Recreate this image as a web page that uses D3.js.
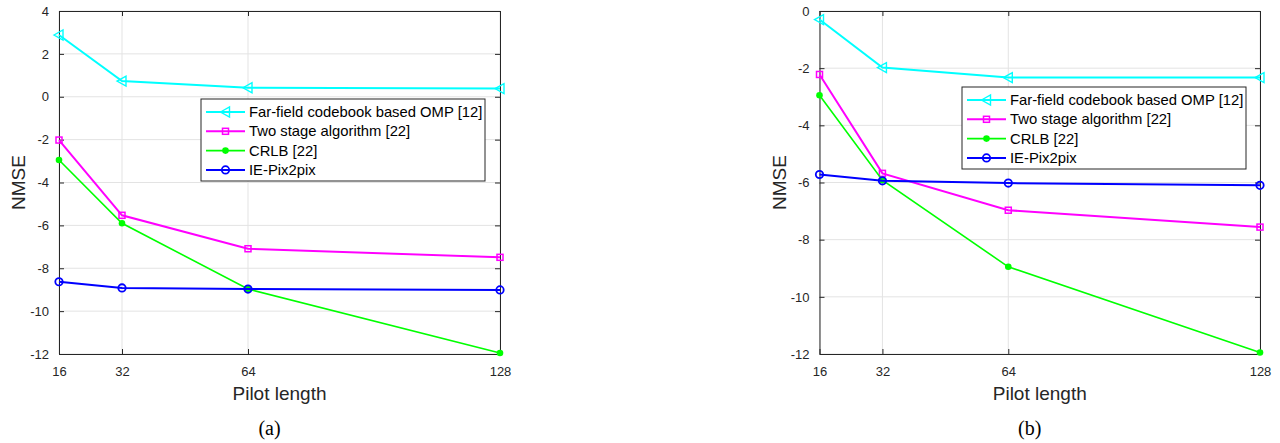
<!DOCTYPE html>
<html>
<head>
<meta charset="utf-8">
<script src="https://cdn.jsdelivr.net/npm/d3@7"></script>
<style>
  body { margin: 0; background: #fff; }
  svg { display: block; }
</style>
</head>
<body>
<div id="chart"></div>
<script>
// pilot lengths shared by both panels
const pilotLengths = [16, 32, 64, 128];
const seriesNames = ['Far-field codebook based OMP [12]', 'Two stage algorithm [22]', 'CRLB [22]', 'IE-Pix2pix'];

// panel (a)
const farFieldA = [2.88, 0.73, 0.42, 0.38];
const twoStageA = [-2.02, -5.53, -7.09, -7.49];
const crlbA = [-2.95, -5.9, -8.97, -11.95];
const pix2pixA = [-8.63, -8.92, -8.97, -9.01];
const yTicksA = [4, 2, 0, -2, -4, -6, -8, -10, -12];

// panel (b)
const farFieldB = [-0.3, -1.98, -2.33, -2.33];
const twoStageB = [-2.22, -5.68, -6.97, -7.56];
const crlbB = [-2.95, -5.92, -8.95, -11.95];
const pix2pixB = [-5.72, -5.94, -6.02, -6.1];
const yTicksB = [0, -2, -4, -6, -8, -10, -12];

const styles = [
    { color: '#00ffff', marker: 'triangle', width: 2 },
    { color: '#ff00ff', marker: 'square', width: 2 },
    { color: '#00ff00', marker: 'dot', width: 1.6 },
    { color: '#0000ff', marker: 'circle', width: 2 }
];

const W = 1280, H = 443;
const axisColor = '#262626';
const font = 'Liberation Sans, Arial, Helvetica, sans-serif';

const svg = d3.select('#chart').append('svg')
    .attr('width', W)
    .attr('height', H);

function drawMarker(g, type, color, x, y) {
    if (type === 'triangle') {
        g.append('path')
            .attr('d', `M${x - 5},${y} L${x + 4},${y - 5} L${x + 4},${y + 5} Z`)
            .attr('fill', 'none').attr('stroke', color).attr('stroke-width', 1.4);
    } else if (type === 'square') {
        g.append('rect')
            .attr('x', x - 3).attr('y', y - 3).attr('width', 6).attr('height', 6)
            .attr('fill', 'none').attr('stroke', color).attr('stroke-width', 1.5);
    } else if (type === 'dot') {
        g.append('circle').attr('cx', x).attr('cy', y).attr('r', 3.3).attr('fill', color);
    } else {
        g.append('circle').attr('cx', x).attr('cy', y).attr('r', 3.7)
            .attr('fill', 'none').attr('stroke', color).attr('stroke-width', 1.8);
    }
}

function drawPanel(cfg) {
    const x = d3.scaleLinear().domain([16, 128]).range([cfg.left, cfg.right]);
    const y = d3.scaleLinear().domain([cfg.yTicks[cfg.yTicks.length - 1], cfg.yTicks[0]]).range([cfg.bottom, cfg.top]);

    const g = svg.append('g');

    // grid
    g.selectAll('line.gy').data(cfg.yTicks).enter().append('line')
        .attr('x1', cfg.left).attr('x2', cfg.right)
        .attr('y1', d => y(d)).attr('y2', d => y(d))
        .attr('stroke', '#e3e3e3').attr('stroke-width', 1);
    g.selectAll('line.gx').data(pilotLengths).enter().append('line')
        .attr('y1', cfg.top).attr('y2', cfg.bottom)
        .attr('x1', d => x(d)).attr('x2', d => x(d))
        .attr('stroke', '#e3e3e3').attr('stroke-width', 1);

    // axes (box with inward ticks), plain hyphen for negatives
    const fmt = d => String(d);
    const axL = g.append('g').attr('transform', `translate(${cfg.left},0)`)
        .call(d3.axisLeft(y).tickValues(cfg.yTicks).tickFormat(fmt).tickSizeInner(-5).tickSizeOuter(0).tickPadding(10));
    const axR = g.append('g').attr('transform', `translate(${cfg.right},0)`)
        .call(d3.axisRight(y).tickValues(cfg.yTicks).tickSizeInner(-5).tickSizeOuter(0).tickFormat(''));
    const axB = g.append('g').attr('transform', `translate(0,${cfg.bottom})`)
        .call(d3.axisBottom(x).tickValues(pilotLengths).tickFormat(fmt).tickSizeInner(-5).tickSizeOuter(0).tickPadding(13));
    const axT = g.append('g').attr('transform', `translate(0,${cfg.top})`)
        .call(d3.axisTop(x).tickValues(pilotLengths).tickSizeInner(-5).tickSizeOuter(0).tickFormat(''));

    [axL, axR, axB, axT].forEach(a => {
        a.select('.domain').attr('stroke', axisColor);
        a.selectAll('.tick line').attr('stroke', axisColor);
        a.selectAll('.tick text')
            .attr('fill', axisColor)
            .style('font-family', font)
            .style('font-size', '13px');
    });

    // series
    cfg.series.forEach((vals, i) => {
        const st = styles[i];
        const pts = pilotLengths.map((p, j) => [x(p), y(vals[j])]);
        g.append('path')
            .attr('d', d3.line()(pts))
            .attr('fill', 'none')
            .attr('stroke', st.color)
            .attr('stroke-width', st.width);
        pts.forEach(p => drawMarker(g, st.marker, st.color, p[0], p[1]));
    });

    // legend
    const lg = g.append('g').attr('transform', `translate(${cfg.legendX},${cfg.legendY})`);
    lg.append('rect')
        .attr('width', 284).attr('height', 82)
        .attr('fill', '#fff').attr('stroke', axisColor).attr('stroke-width', 1);
    seriesNames.forEach((name, i) => {
        const st = styles[i];
        const ry = 13 + i * 19.3;
        lg.append('line')
            .attr('x1', 5).attr('x2', 44).attr('y1', ry).attr('y2', ry)
            .attr('stroke', st.color).attr('stroke-width', st.width);
        drawMarker(lg, st.marker, st.color, 24.5, ry);
        lg.append('text')
            .attr('x', 48).attr('y', ry + 5)
            .attr('fill', '#000')
            .style('font-family', font)
            .style('font-size', '14.8px')
            .text(name);
    });

    // axis titles
    g.append('text')
        .attr('x', (cfg.left + cfg.right) / 2).attr('y', 400)
        .attr('text-anchor', 'middle')
        .attr('fill', axisColor)
        .style('font-family', font).style('font-size', '19px')
        .text('Pilot length');
    g.append('text')
        .attr('transform', `translate(${cfg.left - 34},${(cfg.top + cfg.bottom) / 2}) rotate(-90)`)
        .attr('text-anchor', 'middle')
        .attr('fill', axisColor)
        .style('font-family', font).style('font-size', '19px')
        .text('NMSE');

    // caption
    g.append('text')
        .attr('x', (cfg.left + cfg.right) / 2 - 10).attr('y', 435)
        .attr('text-anchor', 'middle')
        .attr('fill', '#000')
        .style('font-family', 'Liberation Serif, Times New Roman, serif').style('font-size', '20px')
        .text(cfg.caption);
}

drawPanel({
    left: 59, right: 500, top: 11, bottom: 354,
    yTicks: yTicksA,
    series: [farFieldA, twoStageA, crlbA, pix2pixA],
    legendX: 201, legendY: 99,
    caption: '(a)'
});

drawPanel({
    left: 819.5, right: 1260, top: 11, bottom: 354,
    yTicks: yTicksB,
    series: [farFieldB, twoStageB, crlbB, pix2pixB],
    legendX: 962, legendY: 87,
    caption: '(b)'
});
</script>
</body>
</html>
